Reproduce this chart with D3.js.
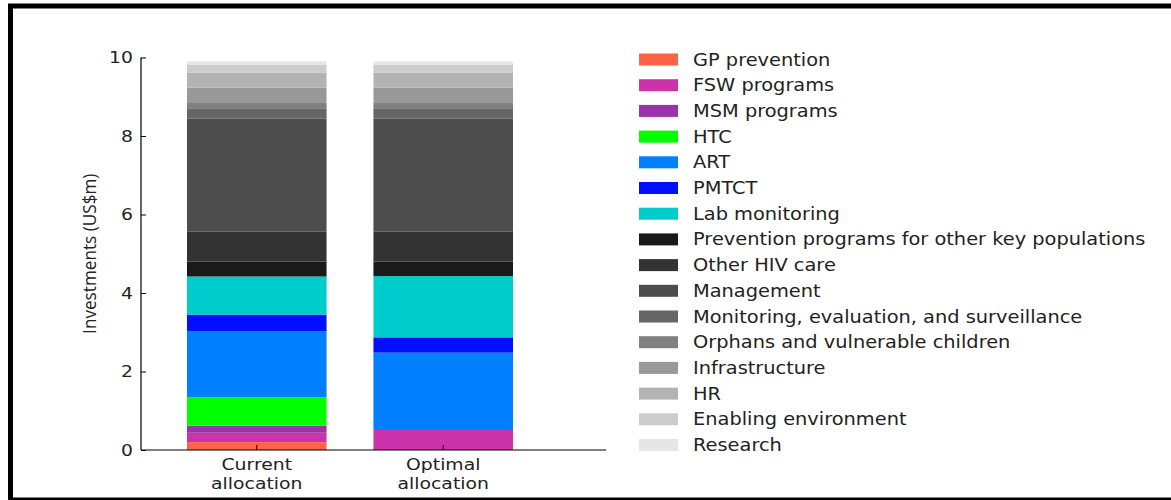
<!DOCTYPE html>
<html>
<head>
<meta charset="utf-8">
<script src="https://cdn.jsdelivr.net/npm/d3@7/dist/d3.min.js"></script>
<style>
  html, body { margin: 0; padding: 0; background: #fff; }
  svg { display: block; }
</style>
</head>
<body>
<svg id="chart" width="1171" height="500"></svg>
<script>
// Budget categories, bottom-to-top stacking order
const categories = [
  "GP prevention", "FSW programs", "MSM programs", "HTC", "ART", "PMTCT",
  "Lab monitoring", "Prevention programs for other key populations",
  "Other HIV care", "Management", "Monitoring, evaluation, and surveillance",
  "Orphans and vulnerable children", "Infrastructure", "HR",
  "Enabling environment", "Research"
];
const colors = [
  "#ff6347", "#cc33aa", "#9933aa", "#00ff00", "#0080ff", "#0010ff",
  "#00cccc", "#1a1a1a", "#333333", "#4d4d4d", "#666666",
  "#808080", "#999999", "#b3b3b3", "#cccccc", "#e6e6e6"
];
const allocations = ["Current allocation", "Optimal allocation"];
// Spending per category, US$m
const currentValues = [0.20, 0.24, 0.18, 0.72, 1.69, 0.42, 0.97, 0.38, 0.77, 2.87, 0.25, 0.15, 0.39, 0.38, 0.20, 0.09];
const optimalValues = [0.00, 0.51, 0.00, 0.00, 1.97, 0.39, 1.56, 0.37, 0.77, 2.87, 0.25, 0.15, 0.39, 0.38, 0.20, 0.09];
const yTicks = [0, 2, 4, 6, 8, 10];
const yLabel = "Investments (US$m)";

const rows = allocations.map((a, i) => {
  const vals = i === 0 ? currentValues : optimalValues;
  const r = { alloc: a };
  categories.forEach((c, j) => r[c] = vals[j]);
  return r;
});

const svg = d3.select("#chart");
const font = "DejaVu Sans, sans-serif";
const stretch = 1.14;   // wide-set lettering

// outer frame
svg.append("rect")
  .attr("x", 10.5).attr("y", 6).attr("width", 1200).attr("height", 494)
  .attr("fill", "none").attr("stroke", "#000").attr("stroke-width", 5);

const plot = { left: 141, right: 606, top: 57.5, bottom: 450 };

const x = d3.scaleBand()
  .domain(allocations)
  .range([187, 513])
  .paddingInner(0.2515)
  .paddingOuter(0);

const y = d3.scaleLinear().domain([0, 10]).range([plot.bottom, plot.top]);

const stack = d3.stack().keys(categories)(rows);

const g = svg.append("g");
stack.forEach((layer, i) => {
  g.selectAll(null)
    .data(layer)
    .enter()
    .append("rect")
    .attr("x", d => x(d.data.alloc))
    .attr("width", x.bandwidth())
    .attr("y", d => y(d[1]))
    .attr("height", d => Math.max(0, y(d[0]) - y(d[1])))
    .attr("fill", colors[i]);
});

// y axis
const yAxis = svg.append("g")
  .attr("transform", `translate(${plot.left},0)`)
  .call(d3.axisLeft(y).tickValues(yTicks).tickSize(-5).tickPadding(7).tickFormat(d3.format("d")));
yAxis.select(".domain").attr("stroke", "#000").attr("stroke-width", 1.2)
  .attr("d", `M0,${plot.top}V${plot.bottom}`);
yAxis.selectAll(".tick line").attr("stroke", "#000");
yAxis.selectAll(".tick text")
  .attr("font-family", font).attr("font-size", 16.5).attr("fill", "#222")
  .attr("transform", `scale(${stretch},1)`);

// x axis
const xAxis = svg.append("g")
  .attr("transform", `translate(0,${plot.bottom})`)
  .call(d3.axisBottom(x).tickSize(-5).tickFormat(""));
xAxis.select(".domain").attr("stroke", "#000").attr("stroke-width", 1.2)
  .attr("d", `M${plot.left},0H${plot.right}`);
xAxis.selectAll(".tick line").attr("stroke", "#000");

// two-line category labels
allocations.forEach(a => {
  const parts = a.split(" ");
  const cx = x(a) + x.bandwidth() / 2;
  const t = svg.append("text")
    .attr("transform", `translate(${cx},470) scale(${stretch},1)`)
    .attr("text-anchor", "middle")
    .attr("font-family", font).attr("font-size", 16.5).attr("fill", "#222");
  parts.forEach((p, k) => t.append("tspan")
    .attr("x", 0)
    .attr("dy", k === 0 ? 0 : 19)
    .text(p));
});

// y axis title
svg.append("text")
  .attr("transform", `translate(96,${(plot.top + plot.bottom) / 2}) rotate(-90) scale(1.04,1.1)`)
  .attr("text-anchor", "middle")
  .attr("font-family", "Open Sans, sans-serif").attr("font-size", 16.5).attr("fill", "#222")
  .text(yLabel);

// legend
const legend = svg.append("g");
categories.forEach((c, i) => {
  const cy = 59.5 + i * 25.7;
  legend.append("rect")
    .attr("x", 639).attr("y", cy - 6).attr("width", 39).attr("height", 12)
    .attr("fill", colors[i]);
  legend.append("text")
    .attr("transform", `translate(693,${cy + 6}) scale(${stretch},1)`)
    .attr("font-family", font).attr("font-size", 17).attr("fill", "#222")
    .text(c);
});
</script>
</body>
</html>
